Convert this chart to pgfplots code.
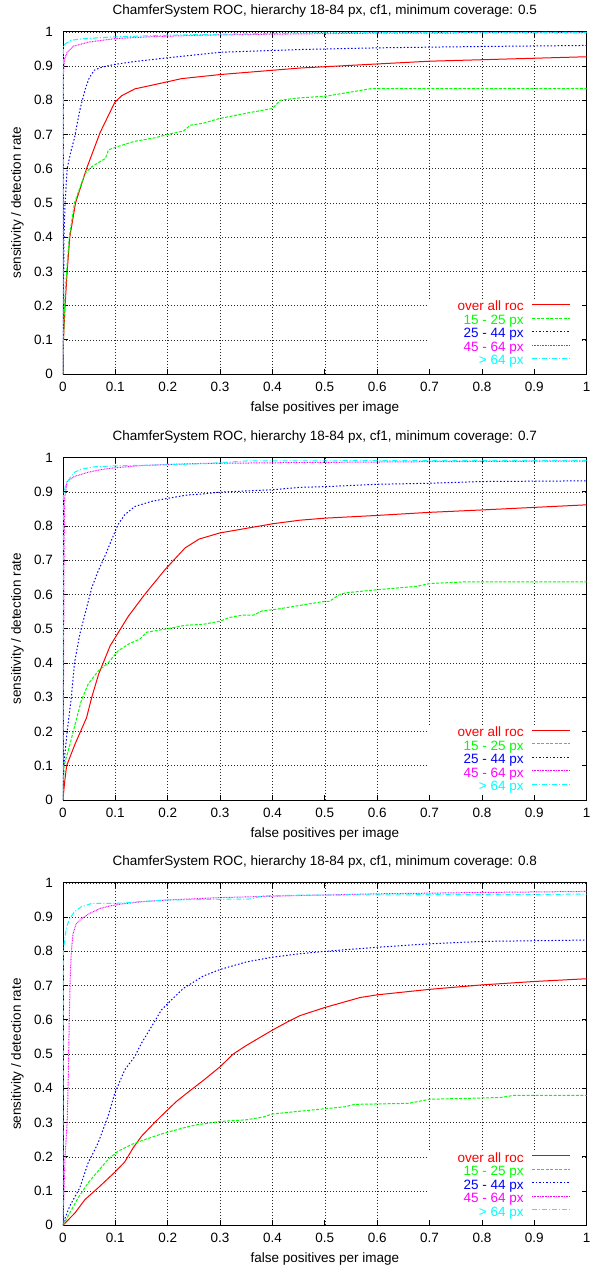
\documentclass[border=0pt]{standalone}
\usepackage{fontspec}
\setmainfont{Liberation Sans}
\usepackage{pgfplots}
\pgfplotsset{compat=1.18}
\definecolor{cgreen}{RGB}{0,255,0}
\definecolor{cblue}{RGB}{0,0,255}
\definecolor{cmag}{RGB}{255,0,255}
\definecolor{ccyan}{RGB}{0,255,255}
\newfontfamily\lred[Color=FF0000]{Liberation Sans}
\newfontfamily\lgreen[Color=00FF00]{Liberation Sans}
\newfontfamily\lblue[Color=0000FF]{Liberation Sans}
\newfontfamily\lmag[Color=FF00FF]{Liberation Sans}
\newfontfamily\lcyan[Color=00FFFF]{Liberation Sans}
\pgfplotsset{
  rocaxis/.style={
    scale only axis, width=524pt, height=342.5pt,
    xmin=0,xmax=1,ymin=0,ymax=1,
    xtick={0,0.1,0.2,0.3,0.4,0.5,0.6,0.7,0.8,0.9,1},
    ytick={0,0.1,0.2,0.3,0.4,0.5,0.6,0.7,0.8,0.9,1},
    /pgf/number format/assume math mode=true,
    grid=major,
    grid style={black!85, line width=0.5pt, dash pattern=on 1pt off 2pt},
    major tick length=5pt,
    tick style={black, line width=0.8pt},
    axis line style={black, line width=0.8pt},
    xticklabel style={yshift=-3.5pt},
    yticklabel style={xshift=-5.5pt},
    xlabel={false positives per image},
    ylabel={sensitivity / detection rate},
    every axis x label/.style={at={(axis description cs:0.5,0)}, anchor=center, yshift=-34pt},
    every axis y label/.style={at={(axis description cs:-0.0868,0.5)}, anchor=center, rotate=90},
    every axis title/.style={at={(axis description cs:0.5,1)}, anchor=center, yshift=21pt},
    legend cell align=right,
    legend plot pos=right,
    legend image code/.code={\draw[##1] (0pt,3.5pt) -- (38pt,3.5pt);},
    legend style={at={(axis description cs:1,0)}, anchor=south east, xshift=-16pt, yshift=5pt,
      draw=none, fill=none, inner sep=0pt, column sep=8pt, row sep=0pt,
      nodes={inner sep=0pt, text height=9.5pt, text depth=4pt}},
  },
  sroc/.style={draw=red, line width=1pt},
  sa/.style={draw=cgreen, line width=1pt, dash pattern=on 3pt off 1.5pt},
  sb/.style={draw=cblue, line width=1pt, dash pattern=on 1.5pt off 2pt},
  sc/.style={draw=cmag, line width=1pt, dash pattern=on 0.8pt off 0.8pt},
  sd/.style={draw=ccyan, line width=1pt, dash pattern=on 5pt off 2pt on 1pt off 2pt},
}
\newcommand{\legendbox}{\addplot[forget plot, draw=none, fill=white] coordinates {(0.695,0.0146)(0.695,0.214)(0.9905,0.214)(0.9905,0.0146)} -- cycle;}
\newcommand{\legendentries}{%
  \addlegendentry{\lred over all roc}
  \addlegendentry{\lgreen 15 - 25 px}
  \addlegendentry{\lblue 25 - 44 px}
  \addlegendentry{\lmag 45 - 64 px}
  \addlegendentry{\lcyan > 64 px}}
\begin{document}
\fontsize{13.5}{16}\selectfont
\begin{tikzpicture}
\path (0pt,0pt) rectangle (589pt,1270pt);
% ---------------- plot 1 ----------------
\begin{axis}[rocaxis, at={(63pt,896pt)}, anchor=south west,
  title={ChamferSystem ROC, hierarchy 18-84 px, cf1, minimum coverage: 0.5}]
\legendbox
\addplot[sroc] coordinates {(0,0)(0.001,0.1)(0.004,0.2)(0.008,0.3)(0.013,0.4)(0.024,0.5)(0.045,0.6)(0.071,0.706)(0.099,0.794)(0.112,0.813)(0.137,0.833)(0.2,0.854)(0.226,0.863)(0.3,0.875)(0.452,0.894)(0.7,0.914)(1,0.927)};
\addplot[sa] coordinates {(0,0)(0.001,0.1)(0.003,0.2)(0.007,0.3)(0.012,0.4)(0.022,0.5)(0.042,0.586)(0.055,0.606)(0.081,0.63)(0.087,0.655)(0.105,0.665)(0.137,0.68)(0.175,0.69)(0.2,0.70)(0.23,0.71)(0.243,0.727)(0.268,0.733)(0.3,0.747)(0.35,0.762)(0.4,0.776)(0.415,0.80)(0.452,0.807)(0.503,0.812)(0.589,0.834)(1,0.834)};
\addplot[sb] coordinates {(0,0)(0.001,0.2)(0.002,0.4)(0.004,0.5)(0.008,0.6)(0.015,0.65)(0.022,0.69)(0.032,0.77)(0.042,0.83)(0.05,0.865)(0.06,0.888)(0.075,0.897)(0.1,0.905)(0.137,0.913)(0.2,0.924)(0.25,0.932)(0.3,0.94)(0.45,0.948)(0.6,0.953)(0.8,0.957)(1,0.96)};
\addplot[sc] coordinates {(0,0)(0.001,0.88)(0.003,0.92)(0.008,0.94)(0.02,0.958)(0.05,0.97)(0.1,0.98)(0.175,0.986)(0.27,0.99)(0.4,0.993)(0.6,0.996)(1,0.997)};
\addplot[sd] coordinates {(0,0)(0.001,0.96)(0.005,0.965)(0.015,0.975)(0.04,0.98)(0.1,0.985)(0.2,0.99)(0.3,0.993)(0.5,0.997)(1,0.998)};
\legendentries
\end{axis}
% ---------------- plot 2 ----------------
\begin{axis}[rocaxis, at={(63pt,470pt)}, anchor=south west,
  title={ChamferSystem ROC, hierarchy 18-84 px, cf1, minimum coverage: 0.7}]
\legendbox
\addplot[sroc] coordinates {(0,0)(0.003,0.05)(0.007,0.10)(0.023,0.163)(0.045,0.24)(0.055,0.30)(0.068,0.367)(0.09,0.45)(0.125,0.537)(0.156,0.60)(0.195,0.673)(0.233,0.736)(0.26,0.762)(0.3,0.78)(0.402,0.807)(0.452,0.817)(0.5,0.823)(0.6,0.831)(0.7,0.84)(0.8,0.847)(1,0.862)};
\addplot[sa] coordinates {(0,0)(0.002,0.1)(0.013,0.16)(0.023,0.22)(0.035,0.29)(0.048,0.338)(0.067,0.376)(0.086,0.40)(0.105,0.435)(0.125,0.455)(0.147,0.47)(0.16,0.49)(0.2,0.50)(0.233,0.51)(0.268,0.513)(0.3,0.522)(0.318,0.533)(0.344,0.54)(0.364,0.54)(0.38,0.552)(0.408,0.557)(0.452,0.568)(0.5,0.58)(0.509,0.58)(0.528,0.60)(0.54,0.605)(0.6,0.614)(0.676,0.624)(0.7,0.632)(0.77,0.637)(1,0.637)};
\addplot[sb] coordinates {(0,0)(0.0015,0.1)(0.008,0.2)(0.016,0.3)(0.022,0.4)(0.032,0.483)(0.045,0.56)(0.055,0.62)(0.067,0.668)(0.08,0.712)(0.093,0.76)(0.105,0.804)(0.118,0.833)(0.137,0.857)(0.169,0.872)(0.2,0.881)(0.239,0.891)(0.268,0.894)(0.3,0.899)(0.4,0.906)(0.452,0.913)(0.5,0.915)(0.6,0.922)(0.7,0.925)(0.8,0.93)(1,0.932)};
\addplot[sc] coordinates {(0,0)(0.002,0.7)(0.003,0.88)(0.008,0.93)(0.022,0.945)(0.048,0.957)(0.073,0.965)(0.099,0.97)(0.144,0.976)(0.2,0.98)(0.268,0.983)(0.5,0.986)(0.7,0.988)(1,0.99)};
\addplot[sd] coordinates {(0,0)(0.001,0.89)(0.005,0.92)(0.013,0.94)(0.022,0.957)(0.035,0.966)(0.06,0.973)(0.1,0.976)(0.175,0.978)(0.268,0.982)(0.35,0.99)(0.6,0.991)(1,0.992)};
\legendentries
\end{axis}
% ---------------- plot 3 ----------------
\begin{axis}[rocaxis, at={(63pt,44.5pt)}, anchor=south west,
  title={ChamferSystem ROC, hierarchy 18-84 px, cf1, minimum coverage: 0.8}]
\legendbox
\addplot[sroc] coordinates {(0,0)(0.023,0.036)(0.042,0.075)(0.067,0.109)(0.099,0.155)(0.118,0.185)(0.134,0.226)(0.15,0.26)(0.175,0.30)(0.195,0.33)(0.217,0.362)(0.245,0.396)(0.268,0.423)(0.3,0.463)(0.325,0.5)(0.35,0.525)(0.4,0.57)(0.43,0.595)(0.452,0.612)(0.5,0.636)(0.567,0.665)(0.6,0.673)(0.7,0.689)(0.8,0.702)(0.9,0.712)(1,0.72)};
\addplot[sa] coordinates {(0,0)(0.013,0.036)(0.029,0.08)(0.048,0.124)(0.067,0.158)(0.086,0.192)(0.105,0.216)(0.131,0.236)(0.156,0.25)(0.175,0.26)(0.2,0.272)(0.22,0.28)(0.239,0.288)(0.258,0.294)(0.3,0.303)(0.35,0.308)(0.382,0.316)(0.4,0.325)(0.452,0.333)(0.538,0.346)(0.557,0.353)(0.66,0.356)(0.7,0.368)(0.835,0.373)(0.86,0.379)(1,0.379)};
\addplot[sb] coordinates {(0,0)(0.003,0.017)(0.013,0.056)(0.032,0.109)(0.048,0.182)(0.067,0.24)(0.086,0.318)(0.099,0.386)(0.118,0.454)(0.137,0.493)(0.15,0.532)(0.169,0.58)(0.188,0.629)(0.207,0.658)(0.23,0.692)(0.249,0.71)(0.268,0.728)(0.3,0.747)(0.35,0.769)(0.4,0.783)(0.452,0.793)(0.5,0.80)(0.6,0.812)(0.7,0.822)(0.8,0.829)(0.9,0.831)(1,0.833)};
\addplot[sc] coordinates {(0,0)(0.002,0.1)(0.004,0.2)(0.008,0.3)(0.010,0.42)(0.012,0.6)(0.014,0.73)(0.016,0.8)(0.019,0.85)(0.025,0.88)(0.035,0.895)(0.05,0.91)(0.07,0.925)(0.09,0.933)(0.11,0.938)(0.15,0.945)(0.2,0.95)(0.3,0.957)(0.45,0.963)(0.6,0.968)(0.8,0.972)(1,0.975)};
\addplot[sd] coordinates {(0,0)(0.001,0.8)(0.003,0.832)(0.007,0.872)(0.013,0.896)(0.022,0.916)(0.035,0.93)(0.055,0.94)(0.1,0.94)(0.144,0.945)(0.2,0.95)(0.3,0.952)(0.36,0.953)(0.38,0.962)(0.45,0.964)(0.6,0.965)(1,0.967)};
\legendentries
\end{axis}
\end{tikzpicture}
\end{document}
